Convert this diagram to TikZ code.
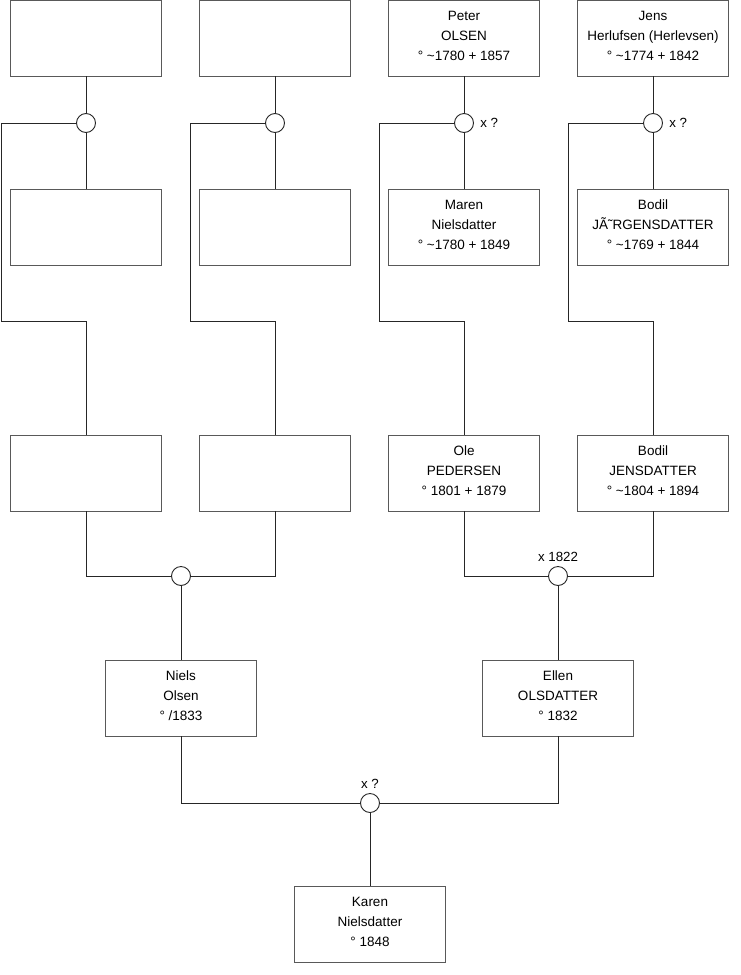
\documentclass[tikz,border=0pt]{standalone}
\usepackage{fontspec}
\setmainfont{Liberation Sans}
\usetikzlibrary{positioning}

\begin{document}
\begin{tikzpicture}[x=1pt, y=-1pt, line width=0.9pt,
    person/.style={draw=black!65, fill=white, minimum width=151pt,
                   minimum height=76pt, align=center, inner sep=0pt,
                   text depth=4pt, font=\fontsize{13.5}{20}\selectfont},
    wed/.style={draw=black!85, fill=white, circle, minimum size=19pt, inner sep=0pt},
    lbl/.style={font=\fontsize{13.3}{15}\selectfont, inner sep=1pt},
    link/.style={draw=black!85}]
    \useasboundingbox (0,0) rectangle (740,975);
    % great-grandparents
    \node[person] (u1) at (86,38) {};
    \node[person] (u2) at (275,38) {};
    \node[person] (peter) at (464,38) {Peter\\OLSEN\\° \textasciitilde1780 + 1857};
    \node[person] (jens) at (653,38) {Jens\\Herlufsen (Herlevsen)\\° \textasciitilde1774 + 1842};
    \node[wed] (w1) at (86,123) {};
    \node[wed] (w2) at (275,123) {};
    \node[wed] (w3) at (464,123) {};
    \node[wed] (w4) at (653,123) {};
    \node[lbl, right=5pt of w3] {x ?};
    \node[lbl, right=5pt of w4] {x ?};
    \node[person] (u3) at (86,227) {};
    \node[person] (u4) at (275,227) {};
    \node[person] (maren) at (464,227) {Maren\\Nielsdatter\\° \textasciitilde1780 + 1849};
    \node[person] (bodil) at (653,227) {Bodil\\JÃ˜RGENSDATTER\\° \textasciitilde1769 + 1844};
    % grandparents
    \node[person] (u5) at (86,473) {};
    \node[person] (u6) at (275,473) {};
    \node[person] (ole) at (464,473) {Ole\\PEDERSEN\\° 1801 + 1879};
    \node[person] (bodilj) at (653,473) {Bodil\\JENSDATTER\\° \textasciitilde1804 + 1894};
    \node[wed] (w5) at (181,576) {};
    \node[wed] (w6) at (558,576) {};
    \node[lbl, above=3pt of w6] {x 1822};
    % parents
    \node[person] (niels) at (181,698) {Niels\\Olsen\\° /1833};
    \node[person] (ellen) at (558,698) {Ellen\\OLSDATTER\\° 1832};
    \node[wed] (w7) at (370,803) {};
    \node[lbl, above=3pt of w7] {x ?};
    \node[person] (karen) at (370,924) {Karen\\Nielsdatter\\° 1848};

    \draw[link] (u1) -- (w1) -- (u3);
    \draw[link] (u2) -- (w2) -- (u4);
    \draw[link] (peter) -- (w3) -- (maren);
    \draw[link] (jens) -- (w4) -- (bodil);
    \draw[link] (w1.west) -| (1,321) -| (u5.north);
    \draw[link] (w2.west) -| (190,321) -| (u6.north);
    \draw[link] (w3.west) -| (379,321) -| (ole.north);
    \draw[link] (w4.west) -| (568,321) -| (bodilj.north);
    \draw[link] (u5.south) |- (w5.west);
    \draw[link] (u6.south) |- (w5.east);
    \draw[link] (ole.south) |- (w6.west);
    \draw[link] (bodilj.south) |- (w6.east);
    \draw[link] (w5) -- (niels);
    \draw[link] (w6) -- (ellen);
    \draw[link] (niels.south) |- (w7.west);
    \draw[link] (ellen.south) |- (w7.east);
    \draw[link] (w7) -- (karen);
\end{tikzpicture}
\end{document}
